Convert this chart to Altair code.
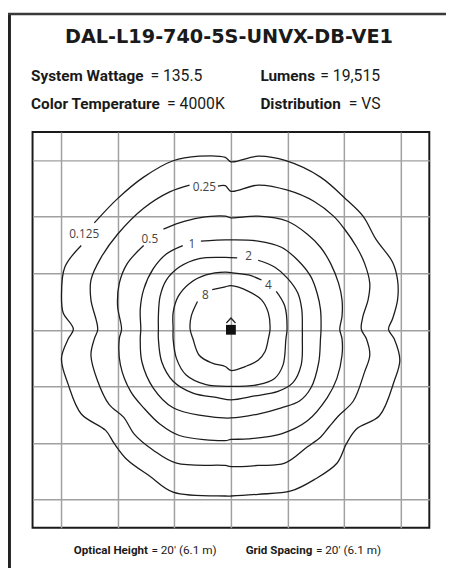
import altair as alt
import pandas as pd

# ---- data (grid units, 1 unit = 20 ft) ----
levels = ["0.125", "0.25", "0.5", "1", "2", "4", "8"]

c0125_x = [-2.41, -2.00, -1.54, -1.02, -0.56, -0.10, 0.00, 0.48, 0.97, 1.58, 2.04, 2.33, 2.56, 2.85, 2.94, 2.94, 2.85, 2.78,
           2.88, 2.98, 2.88, 2.62, 2.22, 2.04, 1.87, 1.47, 1.06, 0.48, 0.00, -0.10, -1.02, -1.43, -1.83, -2.06, -2.21, -2.64,
           -2.87, -2.99, -2.87, -2.78, -2.96, -2.99, -2.93, -2.64]
c0125_y = [1.89, 2.32, 2.70, 2.99, 3.07, 3.05, 2.97, 3.07, 2.99, 2.70, 2.30, 2.01, 1.60, 1.20, 0.88, 0.53, 0.19, 0.01,
           -0.16, -0.54, -0.91, -1.52, -1.75, -2.01, -2.36, -2.65, -2.85, -2.91, -2.94, -2.94, -2.87, -2.59, -2.30, -2.01, -1.78, -1.49,
           -0.97, -0.51, -0.16, 0.01, 0.30, 0.59, 1.11, 1.49]

c025_x = [-0.23, -0.10, 0.00, 0.48, 1.00, 1.47, 1.81, 1.99, 2.22, 2.36, 2.45, 2.42, 2.33, 2.30, 2.39, 2.45, 2.36, 2.16, 1.90,
          1.73, 1.58, 1.35, 0.95, 0.48, 0.00, -0.10, -0.96, -1.37, -1.71, -1.89, -2.15, -2.35, -2.47, -2.41, -2.35, -2.47, -2.47,
          -2.29, -2.00, -1.54, -1.08, -0.73]
c025_y = [2.54, 2.55, 2.45, 2.56, 2.47, 2.27, 2.01, 1.80, 1.46, 1.17, 0.82, 0.53, 0.24, 0.01, -0.16, -0.45, -0.74, -1.26, -1.52,
          -1.72, -1.90, -2.07, -2.36, -2.40, -2.42, -2.40, -2.36, -2.13, -1.84, -1.55, -1.32, -0.91, -0.45, -0.16, 0.01, 0.53, 0.88,
          1.28, 1.69, 2.15, 2.44, 2.56]

c05_x = [-1.19, -0.91, -0.56, -0.10, 0.00, 0.48, 1.00, 1.35, 1.58, 1.76, 1.90, 1.96, 1.96, 1.92, 1.96, 1.96, 1.87, 1.70, 1.35,
         0.89, 0.31, 0.00, -0.10, -0.91, -1.25, -1.54, -1.77, -1.95, -1.97, -1.93, -2.00, -1.97, -1.83, -1.54]
c05_y = [1.78, 1.89, 1.98, 2.01, 1.98, 2.01, 1.92, 1.69, 1.46, 1.17, 0.82, 0.53, 0.24, 0.01, -0.16, -0.45, -0.86, -1.20, -1.61,
         -1.84, -1.93, -1.94, -1.96, -1.87, -1.67, -1.38, -1.09, -0.62, -0.16, 0.01, 0.42, 0.82, 1.17, 1.49]

c1_x = [-0.53, -0.10, 0.00, 0.48, 0.89, 1.18, 1.41, 1.52, 1.58, 1.59, 1.58, 1.55, 1.41, 1.21, 0.89, 0.48, 0.00, -0.50, -1.02,
        -1.37, -1.57, -1.60, -1.59, -1.60, -1.54, -1.37, -1.14, -0.85]
c1_y = [1.57, 1.59, 1.59, 1.57, 1.46, 1.23, 0.94, 0.65, 0.36, 0.01, -0.16, -0.57, -1.03, -1.26, -1.38, -1.49, -1.56, -1.52, -1.38,
        -1.03, -0.57, -0.16, 0.01, 0.36, 0.71, 1.08, 1.34, 1.49]

c2_x = [0.48, 0.77, 1.00, 1.18, 1.25, 1.26, 1.26, 1.24, 1.09, 0.83, 0.42, 0.00, -0.24, -0.67, -1.02, -1.22, -1.28, -1.28, -1.28,
        -1.25, -1.14, -0.91, -0.56, -0.10, 0.11]
c2_y = [1.23, 1.11, 0.91, 0.65, 0.36, 0.01, -0.16, -0.62, -0.94, -1.09, -1.17, -1.24, -1.20, -1.12, -0.91, -0.57, -0.16, 0.01, 0.24,
        0.59, 0.88, 1.11, 1.26, 1.28, 1.27]

c4_x = [0.80, 0.95, 0.99, 0.97, 0.92, 0.77, 0.48, 0.00, -0.44, -0.79, -0.96, -1.02, -1.02, -1.02, -0.93, -0.73, -0.44, -0.10,
        0.00, 0.31, 0.54]
c4_y = [0.68, 0.42, 0.01, -0.16, -0.62, -0.86, -0.97, -1.00, -0.97, -0.80, -0.51, -0.16, 0.01, 0.30, 0.59, 0.82, 0.97, 1.02,
        1.01, 0.97, 0.88]

c8_x = [-0.33, -0.10, 0.00, 0.31, 0.54, 0.66, 0.69, 0.66, 0.60, 0.48, 0.25, 0.00, -0.10, -0.33, -0.56, -0.67, -0.72, -0.70, -0.59]
c8_y = [0.71, 0.76, 0.78, 0.68, 0.53, 0.30, 0.01, -0.16, -0.39, -0.54, -0.65, -0.72, -0.65, -0.59, -0.45, -0.16, 0.01, 0.24, 0.50]

label_x = [-2.59, -0.47, -1.43, -0.69, 0.31, 0.66, -0.45]
label_y = [1.69, 2.53, 1.61, 1.51, 1.30, 0.79, 0.61]

grid_values = [-3, -2, -1, 0, 1, 2, 3]

title_text = "DAL-L19-740-5S-UNVX-DB-VE1"
header_labels = ["System Wattage", "Lumens", "Color Temperature", "Distribution"]
header_values = ["= 135.5", "= 19,515", "= 4000K", "= VS"]
footer_labels = ["Optical Height", "Grid Spacing"]
footer_values = ["= 20\u2032 (6.1 m)", "= 20\u2032 (6.1 m)"]

# ---- build tables ----
rows = []
for lev, xs, ys in zip(levels,
                       [c0125_x, c025_x, c05_x, c1_x, c2_x, c4_x, c8_x],
                       [c0125_y, c025_y, c05_y, c1_y, c2_y, c4_y, c8_y]):
    for i, (a, b) in enumerate(zip(xs, ys)):
        rows.append({"level": lev, "i": i, "x": a, "y": b})
contours = pd.DataFrame(rows)
labels = pd.DataFrame({"level": levels, "x": label_x, "y": label_y})
center = pd.DataFrame({"x": [0.0], "y": [0.0]})
one = pd.DataFrame({"a": [0]})

W, H = 404, 403
HFONT = "Roboto, 'Liberation Sans', sans-serif"

axis_style = dict(values=grid_values, grid=True, labels=False, ticks=False, domain=False,
                  title=None, gridColor="#a0a0a0", gridWidth=1.5)
X = alt.X("x:Q", scale=alt.Scale(domain=[-3.5, 3.5], nice=False, zero=False), axis=alt.Axis(**axis_style))
Y = alt.Y("y:Q", scale=alt.Scale(domain=[-3.5, 3.5], nice=False, zero=False), axis=alt.Axis(**axis_style))

lines = alt.Chart(contours).mark_line(interpolate="catmull-rom", color="#1c1c1c", strokeWidth=1.3).encode(
    x=X, y=Y, detail="level:N", order="i:Q")

lab = alt.Chart(labels).mark_text(font="'Open Sans', sans-serif", fontSize=12, color="#444444",
                                  baseline="middle", align="center").encode(x=X, y=Y, text="level:N")

square = alt.Chart(center).mark_point(shape="square", filled=True, size=100, color="#111111", opacity=1).encode(x=X, y=Y)
caret = alt.Chart(center).mark_point(shape="M-1,0.55L0,-0.55L1,0.55", filled=False, size=86, color="#222222",
                                     strokeWidth=1.3, yOffset=-9.5, opacity=1).encode(x=X, y=Y)


def txt(t, px, py, size, bold=False, align="left", font=HFONT, color="#1a1a1a"):
    return alt.Chart(one).mark_text(text=t, font=font, fontSize=size, fontWeight="bold" if bold else "normal",
                                    align=align, baseline="alphabetic", color=color).encode(
        x=alt.value(px), y=alt.value(py))


OX, OY = 33, 129  # page position of plot area
texts = [
    txt(title_text, 233 - OX, 38.5 - OY, 19.6, bold=True, align="center", font="'DejaVu Sans', sans-serif"),
    txt(header_labels[0], 31.5 - OX, 77 - OY, 15.6, bold=True),
    txt(header_values[0], 153 - OX, 77 - OY, 16),
    txt(header_labels[1], 265 - OX, 77 - OY, 15.6, bold=True),
    txt(header_values[1], 326 - OX, 77 - OY, 16),
    txt(header_labels[2], 31.5 - OX, 105.5 - OY, 15.6, bold=True),
    txt(header_values[2], 170 - OX, 105.5 - OY, 16),
    txt(header_labels[3], 265 - OX, 105.5 - OY, 15.6, bold=True),
    txt(header_values[3], 355 - OX, 105.5 - OY, 16),
    txt(footer_labels[0], 75 - OX, 559 - OY, 11.8, bold=True),
    txt(footer_values[0], 154 - OX, 559 - OY, 12),
    txt(footer_labels[1], 250 - OX, 559 - OY, 11.8, bold=True),
    txt(footer_values[1], 321.5 - OX, 559 - OY, 12),
]

left_rule = alt.Chart(one).mark_rule(color="#222222", strokeWidth=3).encode(
    x=alt.value(9.5 - OX), y=alt.value(8 - OY), y2=alt.value(573 - OY))
top_rule = alt.Chart(one).mark_rule(color="#3a3a3a", strokeWidth=2.5).encode(
    x=alt.value(8 - OX), x2=alt.value(454 - OX), y=alt.value(9 - OY))

chart = alt.layer(lines, lab, square, caret, left_rule, top_rule, *texts).properties(
    width=W, height=H,
    padding={"left": OX - 8, "top": OY - 8, "right": 446 - (OX - 8) - W, "bottom": 565 - (OY - 8) - H},
    autosize=alt.AutoSizeParams(type="none"),
    background="white",
).configure_view(stroke="#1a1a1a", strokeWidth=2)

chart.save("out.html", embed_options={"renderer": "svg", "actions": False})
